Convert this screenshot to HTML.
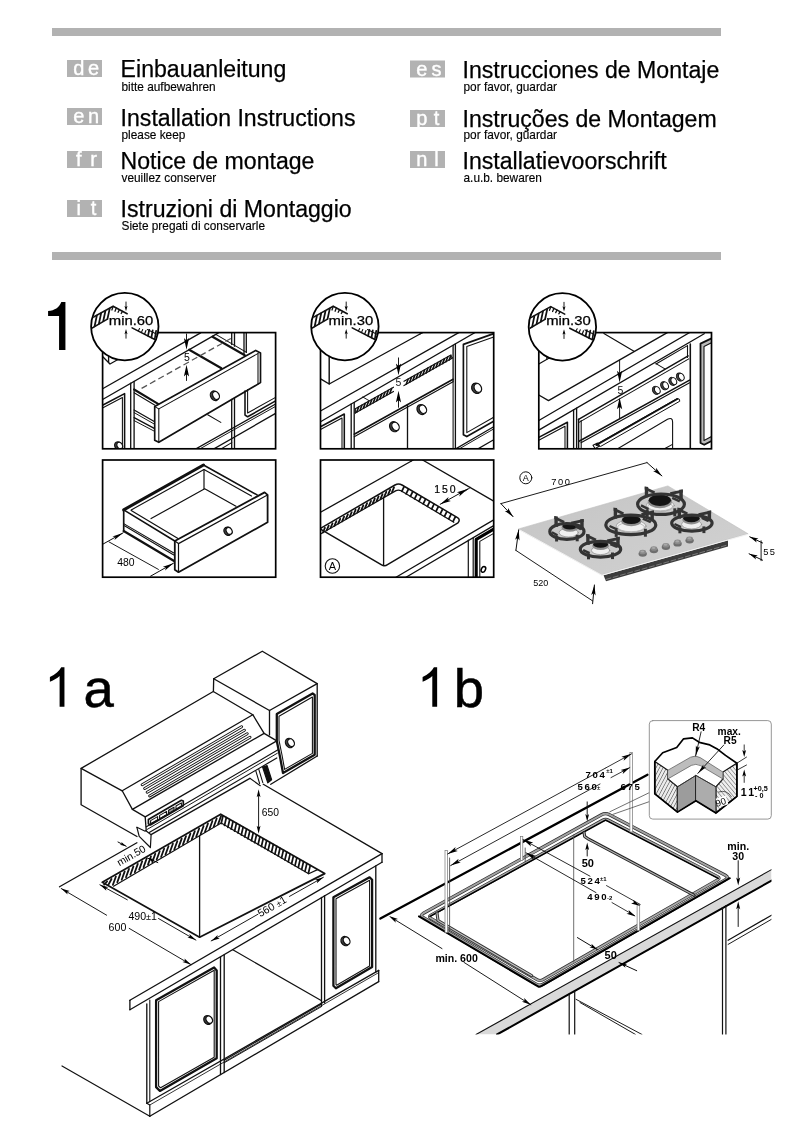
<!DOCTYPE html>
<html><head><meta charset="utf-8">
<style>
html,body{margin:0;padding:0;background:#fff;}
body{width:802px;height:1133px;position:relative;overflow:hidden;font-family:"Liberation Sans",sans-serif;}
svg{position:absolute;left:0;top:0;display:block}
</style></head><body>
<svg style="filter:grayscale(1)" width="802" height="1133" viewBox="0 0 802 1133" font-family="Liberation Sans, sans-serif" stroke-linecap="round">
<rect x="52" y="28" width="669" height="8" fill="#b2b2b2"/>
<rect x="52" y="252" width="669" height="8" fill="#b2b2b2"/>
<rect x="67" y="60" width="35" height="17" fill="#b2b2b2"/>
<text x="78.8" y="75.0" font-size="20" text-anchor="middle" font-weight="normal" fill="#fff" stroke="#fff" stroke-width="0.4">d</text>
<text x="93.6" y="75.0" font-size="20" text-anchor="middle" font-weight="normal" fill="#fff" stroke="#fff" stroke-width="0.4">e</text>
<rect x="67" y="108" width="35" height="17" fill="#b2b2b2"/>
<text x="78.8" y="123.0" font-size="20" text-anchor="middle" font-weight="normal" fill="#fff" stroke="#fff" stroke-width="0.4">e</text>
<text x="93.6" y="123.0" font-size="20" text-anchor="middle" font-weight="normal" fill="#fff" stroke="#fff" stroke-width="0.4">n</text>
<rect x="67" y="151" width="35" height="17" fill="#b2b2b2"/>
<text x="78.8" y="166.0" font-size="20" text-anchor="middle" font-weight="normal" fill="#fff" stroke="#fff" stroke-width="0.4">f</text>
<text x="93.6" y="166.0" font-size="20" text-anchor="middle" font-weight="normal" fill="#fff" stroke="#fff" stroke-width="0.4">r</text>
<rect x="67" y="200" width="35" height="17" fill="#b2b2b2"/>
<text x="78.8" y="215.0" font-size="20" text-anchor="middle" font-weight="normal" fill="#fff" stroke="#fff" stroke-width="0.4">i</text>
<text x="93.6" y="215.0" font-size="20" text-anchor="middle" font-weight="normal" fill="#fff" stroke="#fff" stroke-width="0.4">t</text>
<rect x="410" y="60.5" width="35" height="17" fill="#b2b2b2"/>
<text x="421.8" y="75.5" font-size="20" text-anchor="middle" font-weight="normal" fill="#fff" stroke="#fff" stroke-width="0.4">e</text>
<text x="436.6" y="75.5" font-size="20" text-anchor="middle" font-weight="normal" fill="#fff" stroke="#fff" stroke-width="0.4">s</text>
<rect x="410" y="110" width="35" height="17" fill="#b2b2b2"/>
<text x="421.8" y="125.0" font-size="20" text-anchor="middle" font-weight="normal" fill="#fff" stroke="#fff" stroke-width="0.4">p</text>
<text x="436.6" y="125.0" font-size="20" text-anchor="middle" font-weight="normal" fill="#fff" stroke="#fff" stroke-width="0.4">t</text>
<rect x="410" y="151" width="35" height="17" fill="#b2b2b2"/>
<text x="421.8" y="166.0" font-size="20" text-anchor="middle" font-weight="normal" fill="#fff" stroke="#fff" stroke-width="0.4">n</text>
<text x="436.6" y="166.0" font-size="20" text-anchor="middle" font-weight="normal" fill="#fff" stroke="#fff" stroke-width="0.4">l</text>
<text x="120.6" y="77.0" font-size="23.1" text-anchor="start" font-weight="normal" fill="#000" stroke="#000" stroke-width="0.25">Einbauanleitung</text>
<text x="120.6" y="126.4" font-size="23.1" text-anchor="start" font-weight="normal" fill="#000" stroke="#000" stroke-width="0.25">Installation Instructions</text>
<text x="120.6" y="169.3" font-size="23.1" text-anchor="start" font-weight="normal" fill="#000" stroke="#000" stroke-width="0.25">Notice de montage</text>
<text x="120.6" y="217.4" font-size="23.1" text-anchor="start" font-weight="normal" fill="#000" stroke="#000" stroke-width="0.25">Istruzioni di Montaggio</text>
<text x="462.5" y="78.2" font-size="23.1" text-anchor="start" font-weight="normal" fill="#000" stroke="#000" stroke-width="0.25">Instrucciones de Montaje</text>
<text x="462.5" y="127.4" font-size="23.1" text-anchor="start" font-weight="normal" fill="#000" stroke="#000" stroke-width="0.25">Instruções de Montagem</text>
<text x="462.5" y="169.3" font-size="23.1" text-anchor="start" font-weight="normal" fill="#000" stroke="#000" stroke-width="0.25">Installatievoorschrift</text>
<text x="121.5" y="90.9" font-size="11.85" text-anchor="start" font-weight="normal" fill="#000" stroke="#000" stroke-width="0.15">bitte aufbewahren</text>
<text x="121.5" y="139.3" font-size="11.85" text-anchor="start" font-weight="normal" fill="#000" stroke="#000" stroke-width="0.15">please keep</text>
<text x="121.5" y="181.7" font-size="11.85" text-anchor="start" font-weight="normal" fill="#000" stroke="#000" stroke-width="0.15">veuillez conserver</text>
<text x="121.5" y="230.3" font-size="11.85" text-anchor="start" font-weight="normal" fill="#000" stroke="#000" stroke-width="0.15">Siete pregati di conservarle</text>
<text x="463.5" y="90.9" font-size="11.85" text-anchor="start" font-weight="normal" fill="#000" stroke="#000" stroke-width="0.15">por favor, guardar</text>
<text x="463.5" y="139.3" font-size="11.85" text-anchor="start" font-weight="normal" fill="#000" stroke="#000" stroke-width="0.15">por favor, guardar</text>
<text x="463.5" y="181.7" font-size="11.85" text-anchor="start" font-weight="normal" fill="#000" stroke="#000" stroke-width="0.15">a.u.b. bewaren</text>
<clipPath id="c1"><rect x="102.6" y="332.6" width="173.00000000000003" height="116.19999999999999"/></clipPath><g clip-path="url(#c1)">
<line x1="102.6" y1="388.8" x2="200.6" y2="332.9" stroke="#111" stroke-width="1.32" />
<line x1="102.6" y1="399.5" x2="218.4" y2="332.9" stroke="#111" stroke-width="1.32" />
<path d="M102.8 356.8 L110.0 364.0 L121.0 357.8" stroke="#111" stroke-width="1.32" fill="none" stroke-linejoin="round" />
<line x1="108.6" y1="353.0" x2="108.6" y2="362.5" stroke="#111" stroke-width="1.32" />
<path d="M102.5 405.3 L124.6 393.6 L124.6 449.0" stroke="#111" stroke-width="1.56" fill="none" stroke-linejoin="round" />
<path d="M102.5 408.0 L122.4 397.4 L122.4 449.0" stroke="#111" stroke-width="1.08" fill="none" stroke-linejoin="round" />
<g transform="translate(119.0 445.7) rotate(-30)"><ellipse cx="-0.7" cy="-0.2" rx="3.4" ry="4.2" fill="#444" stroke="#111" stroke-width="1.25"/><ellipse cx="0.7" cy="0.25" rx="2.7" ry="3.6" fill="#fff" stroke="#111" stroke-width="1.25"/></g>
<line x1="130.7" y1="383.2" x2="130.7" y2="449.0" stroke="#111" stroke-width="1.32" />
<line x1="134.1" y1="381.3" x2="134.1" y2="449.0" stroke="#111" stroke-width="1.32" />
<line x1="134.1" y1="389.5" x2="158.1" y2="403.9" stroke="#111" stroke-width="2.16" />
<line x1="134.1" y1="392.8" x2="155.0" y2="405.3" stroke="#111" stroke-width="1.08" />
<line x1="134.1" y1="410.0" x2="154.7" y2="421.7" stroke="#111" stroke-width="1.32" />
<line x1="134.1" y1="412.6" x2="154.7" y2="424.3" stroke="#111" stroke-width="0.96" />
<line x1="134.1" y1="417.6" x2="154.7" y2="428.6" stroke="#111" stroke-width="1.32" />
<line x1="134.1" y1="420.6" x2="154.7" y2="431.4" stroke="#111" stroke-width="0.96" />
<line x1="189.2" y1="349.7" x2="221.4" y2="368.2" stroke="#111" stroke-width="2.16" />
<line x1="212.5" y1="336.7" x2="244.8" y2="355.2" stroke="#111" stroke-width="2.16" />
<line x1="216.2" y1="334.6" x2="246.5" y2="352.4" stroke="#111" stroke-width="1.08" />
<path d="M154.7 406.6 L255.7 350.4 L260.5 353.1 L260.5 382.6 L158.8 442.3 L154.7 440.2 Z" stroke="#111" stroke-width="1.68" fill="#fff" stroke-linejoin="round" />
<path d="M158.8 442.3 L158.8 408.9 L258.2 353.4" stroke="#111" stroke-width="1.08" fill="none" stroke-linejoin="round" />
<path d="M154.7 406.6 L158.8 408.9" stroke="#111" stroke-width="1.08" fill="none" stroke-linejoin="round" />
<line x1="258.0" y1="353.8" x2="258.0" y2="384.0" stroke="#111" stroke-width="1.08" />
<g transform="translate(215.3 395.6) rotate(-30)"><ellipse cx="-0.7" cy="-0.2" rx="4.0" ry="5.0" fill="#444" stroke="#111" stroke-width="1.25"/><ellipse cx="0.7" cy="0.25" rx="3.1" ry="4.2" fill="#fff" stroke="#111" stroke-width="1.25"/></g>
<line x1="141.6" y1="388.4" x2="233" y2="337.3" stroke="#555" stroke-width="1.3" stroke-dasharray="6.2 3.4" stroke-linecap="butt"/>
<line x1="186.5" y1="334.0" x2="186.5" y2="345.0" stroke="#111" stroke-width="0.96" />
<path d="M186.5 349.7 L183.9 338.0 L186.5 340.6 L189.1 338.0 Z" fill="#000"/>
<line x1="186.5" y1="380.5" x2="186.5" y2="370.0" stroke="#111" stroke-width="0.96" />
<path d="M186.5 364.8 L189.1 376.5 L186.5 373.9 L183.9 376.5 Z" fill="#000"/>
<text x="184.0" y="360.9" font-size="10.5" text-anchor="start" font-weight="normal" fill="#000" >5</text>
<line x1="231.7" y1="333.0" x2="231.7" y2="344.5" stroke="#111" stroke-width="1.32" />
<line x1="234.5" y1="333.0" x2="234.5" y2="346.2" stroke="#111" stroke-width="1.32" />
<line x1="244.0" y1="333.0" x2="244.0" y2="354.6" stroke="#111" stroke-width="1.32" />
<line x1="246.3" y1="333.0" x2="246.3" y2="352.2" stroke="#111" stroke-width="1.32" />
<line x1="231.7" y1="399.5" x2="231.7" y2="449.0" stroke="#111" stroke-width="1.32" />
<line x1="234.5" y1="398.0" x2="234.5" y2="449.0" stroke="#111" stroke-width="1.32" />
<path d="M245.0 391.0 L245.0 415.0 L247.6 416.8 L275.6 400.9" stroke="#111" stroke-width="1.56" fill="none" stroke-linejoin="round" />
<path d="M247.6 389.6 L247.6 413.0 L275.6 397.4" stroke="#111" stroke-width="1.08" fill="none" stroke-linejoin="round" />
<line x1="196.0" y1="448.8" x2="275.6" y2="404.0" stroke="#111" stroke-width="1.32" />
<line x1="200.0" y1="448.8" x2="275.6" y2="406.4" stroke="#111" stroke-width="0.96" />
<line x1="214.0" y1="448.8" x2="275.6" y2="413.4" stroke="#111" stroke-width="1.32" />
<line x1="207.7" y1="414.8" x2="220.8" y2="422.4" stroke="#111" stroke-width="1.08" />
<line x1="221.0" y1="449.0" x2="231.7" y2="442.6" stroke="#111" stroke-width="1.08" />
</g>
<rect x="102.6" y="332.6" width="173.00000000000003" height="116.19999999999999" fill="none" stroke="#000" stroke-width="1.7"/>
<circle cx="124.8" cy="326.6" r="33.7" fill="#fff" stroke="#000" stroke-width="1.8"/>
<clipPath id="c2"><rect x="91.1" y="292.90000000000003" width="67.4" height="67.4"/></clipPath><g clip-path="url(#c2)">
<clipPath id="cc2"><circle cx="124.8" cy="326.6" r="33.1"/></clipPath><g clip-path="url(#cc2)">
<path d="M90.8 328.8 L107.4 319.1" stroke="#111" stroke-width="1.56" fill="none" stroke-linejoin="round" />
<path d="M90.8 318.6 L113.1 306.3 L127.1 313.8" stroke="#111" stroke-width="1.56" fill="none" stroke-linejoin="round" />
<line x1="94.6" y1="326.3" x2="96.8" y2="315.7" stroke="#111" stroke-width="1.74" />
<line x1="98.9" y1="323.8" x2="101.1" y2="313.3" stroke="#111" stroke-width="1.74" />
<line x1="103.2" y1="321.2" x2="105.4" y2="311.0" stroke="#111" stroke-width="1.74" />
<line x1="107.5" y1="318.7" x2="109.7" y2="308.6" stroke="#111" stroke-width="1.74" />
<line x1="113.2" y1="306.4" x2="111.9" y2="310.0" stroke="#111" stroke-width="1.32" />
<line x1="116.3" y1="308.1" x2="115.0" y2="311.2" stroke="#111" stroke-width="1.32" />
<line x1="119.4" y1="309.7" x2="118.1" y2="312.3" stroke="#111" stroke-width="1.32" />
<line x1="122.5" y1="311.4" x2="121.2" y2="313.5" stroke="#111" stroke-width="1.32" />
<path d="M132.1 327.9 L155.8 340.0" stroke="#111" stroke-width="1.56" fill="none" stroke-linejoin="round" />
<line x1="138.3" y1="330.8" x2="139.6" y2="328.5" stroke="#111" stroke-width="1.08" />
<line x1="141.4" y1="332.4" x2="142.7" y2="329.5" stroke="#111" stroke-width="1.08" />
<line x1="144.6" y1="334.0" x2="145.9" y2="330.5" stroke="#111" stroke-width="1.2" />
<line x1="148.0" y1="335.7" x2="149.3" y2="329.8" stroke="#111" stroke-width="1.74" />
<line x1="151.4" y1="337.5" x2="152.7" y2="330.4" stroke="#111" stroke-width="1.74" />
<line x1="154.8" y1="339.2" x2="156.1" y2="330.9" stroke="#111" stroke-width="1.74" />
<path d="M147.4 329.6 L157.8 334.8" stroke="#111" stroke-width="1.08" fill="none" stroke-linejoin="round" />
</g>
</g>
<line x1="126.0" y1="302.0" x2="126.0" y2="307.6" stroke="#111" stroke-width="0.96" />
<path d="M126.0 311.2 L124.5 305.9 L126.0 307.1 L127.5 305.9 Z" fill="#000"/>
<line x1="126.0" y1="338.2" x2="126.0" y2="332.6" stroke="#111" stroke-width="0.96" />
<path d="M126.0 329.0 L127.5 334.3 L126.0 333.1 L124.5 334.3 Z" fill="#000"/>
<text x="108.8" y="324.6" font-size="13" text-anchor="start" font-weight="normal" fill="#000" textLength="44.6" lengthAdjust="spacingAndGlyphs" stroke="#000" stroke-width="0.25">min.60</text>
<clipPath id="c3"><rect x="320.5" y="332.6" width="173.2" height="116.19999999999999"/></clipPath><g clip-path="url(#c3)">
<path d="M321.0 379.2 L329.2 384.0 L329.2 352.0" stroke="#111" stroke-width="1.44" fill="none" stroke-linejoin="round" />
<line x1="329.2" y1="384.0" x2="420.0" y2="334.0" stroke="#111" stroke-width="1.32" />
<line x1="420.0" y1="334.0" x2="422.6" y2="332.6" stroke="#111" stroke-width="1.32" />
<line x1="320.5" y1="411.0" x2="460.5" y2="331.6" stroke="#111" stroke-width="1.32" />
<line x1="320.5" y1="421.8" x2="476.0" y2="332.0" stroke="#111" stroke-width="1.32" />
<path d="M355.3 408.7 L393.5 387.2" stroke="#111" stroke-width="1.2" fill="none" stroke-linejoin="round" />
<path d="M355.3 413.0 L393.5 391.5" stroke="#111" stroke-width="1.2" fill="none" stroke-linejoin="round" />
<path d="M404.0 381.3 L450.0 355.4 L452.5 358.0 L404.0 385.6" stroke="#111" stroke-width="1.2" fill="none" stroke-linejoin="round" />
<line x1="355.3" y1="408.7" x2="355.3" y2="413.0" stroke="#111" stroke-width="1.2" />
<line x1="356.8" y1="411.9" x2="358.6" y2="407.1" stroke="#111" stroke-width="1.62" />
<line x1="360.1" y1="410.0" x2="361.9" y2="405.3" stroke="#111" stroke-width="1.62" />
<line x1="363.4" y1="408.1" x2="365.2" y2="403.4" stroke="#111" stroke-width="1.62" />
<line x1="366.7" y1="406.3" x2="368.5" y2="401.6" stroke="#111" stroke-width="1.62" />
<line x1="370.0" y1="404.4" x2="371.8" y2="399.7" stroke="#111" stroke-width="1.62" />
<line x1="373.3" y1="402.6" x2="375.1" y2="397.9" stroke="#111" stroke-width="1.62" />
<line x1="376.6" y1="400.7" x2="378.4" y2="396.0" stroke="#111" stroke-width="1.62" />
<line x1="379.9" y1="398.9" x2="381.7" y2="394.1" stroke="#111" stroke-width="1.62" />
<line x1="383.2" y1="397.0" x2="385.0" y2="392.3" stroke="#111" stroke-width="1.62" />
<line x1="386.5" y1="395.1" x2="388.3" y2="390.4" stroke="#111" stroke-width="1.62" />
<line x1="389.8" y1="393.3" x2="391.6" y2="388.6" stroke="#111" stroke-width="1.62" />
<line x1="406.3" y1="384.0" x2="408.1" y2="379.3" stroke="#111" stroke-width="1.62" />
<line x1="409.6" y1="382.2" x2="411.4" y2="377.4" stroke="#111" stroke-width="1.62" />
<line x1="412.9" y1="380.3" x2="414.7" y2="375.6" stroke="#111" stroke-width="1.62" />
<line x1="416.2" y1="378.4" x2="418.0" y2="373.7" stroke="#111" stroke-width="1.62" />
<line x1="419.5" y1="376.6" x2="421.3" y2="371.9" stroke="#111" stroke-width="1.62" />
<line x1="422.8" y1="374.7" x2="424.6" y2="370.0" stroke="#111" stroke-width="1.62" />
<line x1="426.1" y1="372.9" x2="427.9" y2="368.2" stroke="#111" stroke-width="1.62" />
<line x1="429.4" y1="371.0" x2="431.2" y2="366.3" stroke="#111" stroke-width="1.62" />
<line x1="432.7" y1="369.2" x2="434.5" y2="364.4" stroke="#111" stroke-width="1.62" />
<line x1="436.0" y1="367.3" x2="437.8" y2="362.6" stroke="#111" stroke-width="1.62" />
<line x1="439.3" y1="365.4" x2="441.1" y2="360.7" stroke="#111" stroke-width="1.62" />
<line x1="442.6" y1="363.6" x2="444.4" y2="358.9" stroke="#111" stroke-width="1.62" />
<line x1="445.9" y1="361.7" x2="447.7" y2="357.0" stroke="#111" stroke-width="1.62" />
<line x1="449.2" y1="359.9" x2="451.0" y2="355.2" stroke="#111" stroke-width="1.62" />
<line x1="362.8" y1="397.0" x2="369.0" y2="400.6" stroke="#111" stroke-width="0.96" />
<line x1="351.2" y1="404.0" x2="351.2" y2="449.0" stroke="#111" stroke-width="1.32" />
<line x1="354.2" y1="402.3" x2="354.2" y2="449.0" stroke="#111" stroke-width="1.32" />
<path d="M320.5 426.8 L344.3 414.0 L344.3 449.0" stroke="#111" stroke-width="1.56" fill="none" stroke-linejoin="round" />
<path d="M320.5 429.6 L342.0 418.0 L342.0 449.0" stroke="#111" stroke-width="1.08" fill="none" stroke-linejoin="round" />
<line x1="354.2" y1="434.2" x2="453.1" y2="379.2" stroke="#111" stroke-width="1.56" />
<line x1="354.2" y1="436.8" x2="453.1" y2="381.8" stroke="#111" stroke-width="1.08" />
<line x1="407.5" y1="405.6" x2="407.5" y2="449.0" stroke="#111" stroke-width="1.32" />
<g transform="translate(394.8 426.5) rotate(-30)"><ellipse cx="-0.7" cy="-0.2" rx="4.3" ry="5.2" fill="#444" stroke="#111" stroke-width="1.25"/><ellipse cx="0.7" cy="0.25" rx="3.4" ry="4.4" fill="#fff" stroke="#111" stroke-width="1.25"/></g>
<g transform="translate(422.2 409.4) rotate(-30)"><ellipse cx="-0.7" cy="-0.2" rx="4.3" ry="5.2" fill="#444" stroke="#111" stroke-width="1.25"/><ellipse cx="0.7" cy="0.25" rx="3.4" ry="4.4" fill="#fff" stroke="#111" stroke-width="1.25"/></g>
<line x1="398.5" y1="357.9" x2="398.5" y2="370.0" stroke="#111" stroke-width="0.96" />
<path d="M398.5 375.2 L395.9 363.5 L398.5 366.1 L401.1 363.5 Z" fill="#000"/>
<line x1="398.5" y1="407.3" x2="398.5" y2="396.0" stroke="#111" stroke-width="0.96" />
<path d="M398.5 390.8 L401.1 402.5 L398.5 399.9 L395.9 402.5 Z" fill="#000"/>
<text x="395.6" y="386.2" font-size="10.5" text-anchor="start" font-weight="normal" fill="#222" >5</text>
<line x1="453.1" y1="345.3" x2="453.1" y2="381.0" stroke="#111" stroke-width="1.32" />
<line x1="455.4" y1="344.0" x2="455.4" y2="449.0" stroke="#111" stroke-width="1.32" />
<line x1="453.1" y1="381.0" x2="453.1" y2="449.0" stroke="#111" stroke-width="1.08" />
<path d="M493.7 333.6 L463.4 344.4 L463.4 434.7 L466.8 436.6 L493.7 421.2" stroke="#111" stroke-width="1.68" fill="none" stroke-linejoin="round" />
<path d="M493.7 337.0 L466.8 346.6 L466.8 432.6 L493.7 417.2" stroke="#111" stroke-width="1.08" fill="none" stroke-linejoin="round" />
<g transform="translate(477.1 388.1) rotate(-30)"><ellipse cx="-0.7" cy="-0.2" rx="4.5" ry="5.4" fill="#444" stroke="#111" stroke-width="1.25"/><ellipse cx="0.7" cy="0.25" rx="3.5" ry="4.6" fill="#fff" stroke="#111" stroke-width="1.25"/></g>
<line x1="455.8" y1="448.8" x2="493.7" y2="426.7" stroke="#111" stroke-width="1.32" />
<line x1="459.4" y1="448.8" x2="493.7" y2="428.9" stroke="#111" stroke-width="0.96" />
<line x1="478.0" y1="448.8" x2="493.7" y2="439.7" stroke="#111" stroke-width="1.32" />
</g>
<rect x="320.5" y="332.6" width="173.2" height="116.19999999999999" fill="none" stroke="#000" stroke-width="1.7"/>
<circle cx="344.9" cy="326.6" r="33.7" fill="#fff" stroke="#000" stroke-width="1.8"/>
<clipPath id="c4"><rect x="311.2" y="292.90000000000003" width="67.4" height="67.4"/></clipPath><g clip-path="url(#c4)">
<clipPath id="cc4"><circle cx="344.9" cy="326.6" r="33.1"/></clipPath><g clip-path="url(#cc4)">
<path d="M310.9 328.8 L327.5 319.1" stroke="#111" stroke-width="1.56" fill="none" stroke-linejoin="round" />
<path d="M310.9 318.6 L333.2 306.3 L347.2 313.8" stroke="#111" stroke-width="1.56" fill="none" stroke-linejoin="round" />
<line x1="314.7" y1="326.3" x2="316.9" y2="315.7" stroke="#111" stroke-width="1.74" />
<line x1="319.0" y1="323.8" x2="321.2" y2="313.3" stroke="#111" stroke-width="1.74" />
<line x1="323.3" y1="321.2" x2="325.5" y2="311.0" stroke="#111" stroke-width="1.74" />
<line x1="327.6" y1="318.7" x2="329.8" y2="308.6" stroke="#111" stroke-width="1.74" />
<line x1="333.3" y1="306.4" x2="332.0" y2="310.0" stroke="#111" stroke-width="1.32" />
<line x1="336.4" y1="308.1" x2="335.1" y2="311.2" stroke="#111" stroke-width="1.32" />
<line x1="339.5" y1="309.7" x2="338.2" y2="312.3" stroke="#111" stroke-width="1.32" />
<line x1="342.6" y1="311.4" x2="341.3" y2="313.5" stroke="#111" stroke-width="1.32" />
<path d="M352.2 327.9 L375.9 340.0" stroke="#111" stroke-width="1.56" fill="none" stroke-linejoin="round" />
<line x1="358.4" y1="330.8" x2="359.7" y2="328.5" stroke="#111" stroke-width="1.08" />
<line x1="361.5" y1="332.4" x2="362.8" y2="329.5" stroke="#111" stroke-width="1.08" />
<line x1="364.7" y1="334.0" x2="366.0" y2="330.5" stroke="#111" stroke-width="1.2" />
<line x1="368.1" y1="335.7" x2="369.4" y2="329.8" stroke="#111" stroke-width="1.74" />
<line x1="371.5" y1="337.5" x2="372.8" y2="330.4" stroke="#111" stroke-width="1.74" />
<line x1="374.9" y1="339.2" x2="376.2" y2="330.9" stroke="#111" stroke-width="1.74" />
<path d="M367.5 329.6 L377.9 334.8" stroke="#111" stroke-width="1.08" fill="none" stroke-linejoin="round" />
</g>
</g>
<line x1="346.2" y1="302.0" x2="346.2" y2="307.6" stroke="#111" stroke-width="0.96" />
<path d="M346.2 311.2 L344.7 305.9 L346.2 307.1 L347.7 305.9 Z" fill="#000"/>
<line x1="346.2" y1="338.2" x2="346.2" y2="332.6" stroke="#111" stroke-width="0.96" />
<path d="M346.2 329.0 L347.7 334.3 L346.2 333.1 L344.7 334.3 Z" fill="#000"/>
<text x="328.6" y="324.6" font-size="13" text-anchor="start" font-weight="normal" fill="#000" textLength="44.6" lengthAdjust="spacingAndGlyphs" stroke="#000" stroke-width="0.25">min.30</text>
<clipPath id="c5"><rect x="538.8" y="332.6" width="172.70000000000005" height="116.19999999999999"/></clipPath><g clip-path="url(#c5)">
<path d="M538.8 395.0 L548.5 400.6 L667.3 332.6" stroke="#111" stroke-width="1.32" fill="none" stroke-linejoin="round" />
<line x1="603.9" y1="333.5" x2="634.4" y2="351.4" stroke="#111" stroke-width="1.2" />
<path d="M538.8 364.1 L549.2 357.9" stroke="#111" stroke-width="1.2" fill="none" stroke-linejoin="round" />
<line x1="546.8" y1="356.0" x2="546.8" y2="359.5" stroke="#111" stroke-width="1.08" />
<line x1="538.8" y1="420.5" x2="690.6" y2="332.0" stroke="#111" stroke-width="1.32" />
<line x1="538.8" y1="430.1" x2="704.2" y2="333.7" stroke="#111" stroke-width="1.32" />
<line x1="656.0" y1="364.0" x2="687.5" y2="345.6" stroke="#111" stroke-width="1.08" />
<line x1="656.0" y1="363.6" x2="664.9" y2="368.9" stroke="#111" stroke-width="1.08" />
<line x1="578.6" y1="419.3" x2="688.2" y2="355.9" stroke="#111" stroke-width="1.44" />
<line x1="578.6" y1="422.6" x2="688.8" y2="358.9" stroke="#111" stroke-width="1.08" />
<line x1="578.6" y1="441.5" x2="689.6" y2="380.1" stroke="#111" stroke-width="1.44" />
<line x1="581.0" y1="442.8" x2="689.6" y2="382.7" stroke="#111" stroke-width="1.08" />
<line x1="578.6" y1="419.3" x2="578.6" y2="449.0" stroke="#111" stroke-width="1.44" />
<line x1="581.2" y1="420.6" x2="581.2" y2="449.0" stroke="#111" stroke-width="1.08" />
<g transform="translate(656.6 390.2) rotate(-28)"><ellipse cx="-0.7" cy="-0.2" rx="3.3" ry="4.3" fill="#444" stroke="#111" stroke-width="0.9"/><ellipse cx="0.7" cy="0.25" rx="2.6" ry="3.7" fill="#fff" stroke="#111" stroke-width="0.9"/></g>
<g transform="translate(664.9 385.6) rotate(-28)"><ellipse cx="-0.7" cy="-0.2" rx="3.3" ry="4.3" fill="#444" stroke="#111" stroke-width="0.9"/><ellipse cx="0.7" cy="0.25" rx="2.6" ry="3.7" fill="#fff" stroke="#111" stroke-width="0.9"/></g>
<g transform="translate(673.1 381.2) rotate(-28)"><ellipse cx="-0.7" cy="-0.2" rx="3.3" ry="4.3" fill="#444" stroke="#111" stroke-width="0.9"/><ellipse cx="0.7" cy="0.25" rx="2.6" ry="3.7" fill="#fff" stroke="#111" stroke-width="0.9"/></g>
<g transform="translate(680.6 376.9) rotate(-28)"><ellipse cx="-0.7" cy="-0.2" rx="3.3" ry="4.3" fill="#444" stroke="#111" stroke-width="0.9"/><ellipse cx="0.7" cy="0.25" rx="2.6" ry="3.7" fill="#fff" stroke="#111" stroke-width="0.9"/></g>
<path d="M596 444.6 L677.0 398.6 Q680 398.2 679.8 401.2 L601 446.2 Z" fill="#fff" stroke="#111" stroke-width="1"/>
<line x1="596.5" y1="444.9" x2="677.3" y2="399.0" stroke="#111" stroke-width="1.92" />
<path d="M593.0 445.2 L597.5 443.0 L599.5 446.0 L595.0 448.6 Z" stroke="#111" stroke-width="1.08" fill="none" stroke-linejoin="round" />
<path d="M602 458 L667.5 419.3 Q672.6 417 672.6 422 L672.6 452" fill="none" stroke="#111" stroke-width="1.1"/>
<line x1="664.5" y1="448.8" x2="672.0" y2="444.6" stroke="#111" stroke-width="1.08" />
<line x1="573.6" y1="409.8" x2="573.6" y2="449.0" stroke="#111" stroke-width="1.32" />
<line x1="576.6" y1="408.1" x2="576.6" y2="449.0" stroke="#111" stroke-width="1.32" />
<path d="M538.8 437.4 L567.4 422.2 L567.4 449.0" stroke="#111" stroke-width="1.56" fill="none" stroke-linejoin="round" />
<path d="M538.8 440.2 L565.0 426.2 L565.0 449.0" stroke="#111" stroke-width="1.08" fill="none" stroke-linejoin="round" />
<line x1="619.6" y1="360.2" x2="619.6" y2="376.5" stroke="#111" stroke-width="0.96" />
<path d="M619.6 382.4 L617.0 370.7 L619.6 373.3 L622.2 370.7 Z" fill="#000"/>
<line x1="619.6" y1="418.3" x2="619.6" y2="405.0" stroke="#111" stroke-width="0.96" />
<path d="M619.6 397.6 L622.2 409.3 L619.6 406.7 L617.0 409.3 Z" fill="#000"/>
<text x="617.4" y="394.0" font-size="10.5" text-anchor="start" font-weight="normal" fill="#111" >5</text>
<line x1="687.5" y1="345.8" x2="687.5" y2="357.5" stroke="#111" stroke-width="1.08" />
<line x1="690.3" y1="344.0" x2="690.3" y2="449.0" stroke="#111" stroke-width="1.56" />
<path d="M711.5 338.4 L700.5 343.6 L700.5 443.0 L704.2 444.8 L711.5 441.0" stroke="#111" stroke-width="1.8" fill="#bbb" stroke-linejoin="round" />
<path d="M711.5 342.8 L704.0 346.4 L704.0 440.4 L711.5 436.6" stroke="#111" stroke-width="1.08" fill="#fff" stroke-linejoin="round" />
</g>
<rect x="538.8" y="332.6" width="172.70000000000005" height="116.19999999999999" fill="none" stroke="#000" stroke-width="1.7"/>
<circle cx="562.4" cy="326.9" r="33.7" fill="#fff" stroke="#000" stroke-width="1.8"/>
<clipPath id="c6"><rect x="528.6999999999999" y="293.2" width="67.4" height="67.4"/></clipPath><g clip-path="url(#c6)">
<clipPath id="cc6"><circle cx="562.4" cy="326.9" r="33.1"/></clipPath><g clip-path="url(#cc6)">
<path d="M528.4 329.1 L545.0 319.4" stroke="#111" stroke-width="1.56" fill="none" stroke-linejoin="round" />
<path d="M528.4 318.9 L550.7 306.6 L564.7 314.1" stroke="#111" stroke-width="1.56" fill="none" stroke-linejoin="round" />
<line x1="532.2" y1="326.6" x2="534.4" y2="316.0" stroke="#111" stroke-width="1.74" />
<line x1="536.5" y1="324.1" x2="538.7" y2="313.6" stroke="#111" stroke-width="1.74" />
<line x1="540.8" y1="321.5" x2="543.0" y2="311.3" stroke="#111" stroke-width="1.74" />
<line x1="545.1" y1="319.0" x2="547.3" y2="308.9" stroke="#111" stroke-width="1.74" />
<line x1="550.8" y1="306.7" x2="549.5" y2="310.3" stroke="#111" stroke-width="1.32" />
<line x1="553.9" y1="308.4" x2="552.6" y2="311.5" stroke="#111" stroke-width="1.32" />
<line x1="557.0" y1="310.0" x2="555.7" y2="312.6" stroke="#111" stroke-width="1.32" />
<line x1="560.1" y1="311.7" x2="558.8" y2="313.8" stroke="#111" stroke-width="1.32" />
<path d="M569.7 328.2 L593.4 340.3" stroke="#111" stroke-width="1.56" fill="none" stroke-linejoin="round" />
<line x1="575.9" y1="331.1" x2="577.2" y2="328.8" stroke="#111" stroke-width="1.08" />
<line x1="579.0" y1="332.7" x2="580.3" y2="329.8" stroke="#111" stroke-width="1.08" />
<line x1="582.2" y1="334.3" x2="583.5" y2="330.8" stroke="#111" stroke-width="1.2" />
<line x1="585.6" y1="336.0" x2="586.9" y2="330.1" stroke="#111" stroke-width="1.74" />
<line x1="589.0" y1="337.8" x2="590.3" y2="330.7" stroke="#111" stroke-width="1.74" />
<line x1="592.4" y1="339.5" x2="593.7" y2="331.2" stroke="#111" stroke-width="1.74" />
<path d="M585.0 329.9 L595.4 335.1" stroke="#111" stroke-width="1.08" fill="none" stroke-linejoin="round" />
</g>
</g>
<line x1="564.0" y1="302.3" x2="564.0" y2="307.9" stroke="#111" stroke-width="0.96" />
<path d="M564.0 311.5 L562.5 306.2 L564.0 307.4 L565.5 306.2 Z" fill="#000"/>
<line x1="564.0" y1="338.5" x2="564.0" y2="332.9" stroke="#111" stroke-width="0.96" />
<path d="M564.0 329.3 L565.5 334.6 L564.0 333.4 L562.5 334.6 Z" fill="#000"/>
<text x="546.2" y="325.2" font-size="13" text-anchor="start" font-weight="normal" fill="#000" textLength="44.6" lengthAdjust="spacingAndGlyphs" stroke="#000" stroke-width="0.25">min.30</text>
<path d="M65.43 301.88 L65.43 349.97 L59.07 349.97 L59.07 315.94 L48.08 315.94 L48.08 310.93 C54.9 310.2 59.0 307.6 61.32 301.88 Z" fill="#000"/>
<clipPath id="c7"><rect x="102.6" y="460.0" width="173.1" height="117.20000000000005"/></clipPath><g clip-path="url(#c7)">
<path d="M123.7 509.9 L203.5 465.0" stroke="#111" stroke-width="3.0" fill="none" stroke-linejoin="round" />
<path d="M203.5 465.0 L257.1 494.9" stroke="#111" stroke-width="1.56" fill="none" stroke-linejoin="round" />
<path d="M131.2 509.9 L204.0 469.6 L251.5 496.0" stroke="#111" stroke-width="1.2" fill="none" stroke-linejoin="round" />
<path d="M123.7 509.9 L174.8 541.0" stroke="#111" stroke-width="1.56" fill="none" stroke-linejoin="round" />
<path d="M131.2 510.4 L178.0 538.6" stroke="#111" stroke-width="1.2" fill="none" stroke-linejoin="round" />
<line x1="204.0" y1="469.6" x2="204.0" y2="488.7" stroke="#111" stroke-width="1.2" />
<path d="M151.1 518.6 L204.7 488.7 L236.0 506.3" stroke="#111" stroke-width="1.2" fill="none" stroke-linejoin="round" />
<line x1="123.7" y1="509.9" x2="123.7" y2="531.4" stroke="#111" stroke-width="1.68" />
<line x1="123.7" y1="523.6" x2="173.8" y2="553.0" stroke="#111" stroke-width="1.08" />
<line x1="124.5" y1="525.8" x2="173.8" y2="555.0" stroke="#111" stroke-width="1.08" />
<line x1="123.7" y1="531.0" x2="174.1" y2="561.0" stroke="#111" stroke-width="2.28" />
<path d="M174.8 541.0 L264.6 492.4 L267.6 494.9 L267.6 522.3 L178.5 572.2 L174.8 569.7 Z" stroke="#111" stroke-width="1.8" fill="#fff" stroke-linejoin="round" />
<path d="M178.5 572.2 L178.5 543.6 L267.0 495.2" stroke="#111" stroke-width="1.2" fill="none" stroke-linejoin="round" />
<line x1="174.8" y1="541.0" x2="178.5" y2="543.6" stroke="#111" stroke-width="1.2" />
<g transform="translate(228.4 531.0) rotate(-30)"><ellipse cx="-0.7" cy="-0.2" rx="3.6" ry="4.3" fill="#444" stroke="#111" stroke-width="1.25"/><ellipse cx="0.7" cy="0.25" rx="2.8" ry="3.7" fill="#fff" stroke="#111" stroke-width="1.25"/></g>
<line x1="109.0" y1="541.9" x2="158.4" y2="569.4" stroke="#111" stroke-width="0.96" />
<line x1="103.0" y1="544.1" x2="123.0" y2="532.9" stroke="#000" stroke-width="0.96" />
<path d="M123.0 532.9 L114.5 540.1 L115.6 537.1 L112.4 536.4 Z" fill="#000"/>
<line x1="150.5" y1="576.2" x2="173.5" y2="563.2" stroke="#000" stroke-width="0.96" />
<path d="M173.5 563.2 L165.0 570.4 L166.1 567.4 L162.9 566.7 Z" fill="#000"/>
<text x="117.2" y="565.9" font-size="10.4" text-anchor="start" font-weight="normal" fill="#000" >480</text>
</g>
<rect x="102.6" y="460.0" width="173.1" height="117.20000000000005" fill="none" stroke="#000" stroke-width="1.7"/>
<clipPath id="c8"><rect x="320.5" y="460.0" width="173.2" height="117.20000000000005"/></clipPath><g clip-path="url(#c8)">
<line x1="320.5" y1="512.3" x2="411.0" y2="461.2" stroke="#111" stroke-width="1.32" />
<line x1="411.0" y1="461.2" x2="413.2" y2="460.0" stroke="#111" stroke-width="1.32" />
<line x1="422.6" y1="460.0" x2="493.7" y2="501.1" stroke="#111" stroke-width="1.32" />
<path d="M320.5 528.4 L395.0 485.0 Q398.5 483.0 402.0 485.0 L457.5 517.6 Q460.6 519.6 458.0 522.8 L387.5 564.6 Q384.6 566.6 381.6 564.8 L320.5 529.2" fill="none" stroke="#111" stroke-width="1.5" stroke-linejoin="round"/>
<path d="M320.5 534.0 L396.0 490.6 Q398.5 489.4 401.0 490.8 L453.8 522.2" fill="none" stroke="#111" stroke-width="1.3"/>
<line x1="322.9" y1="532.5" x2="324.9" y2="527.8" stroke="#111" stroke-width="1.8" />
<line x1="326.7" y1="530.3" x2="328.7" y2="525.6" stroke="#111" stroke-width="1.8" />
<line x1="330.5" y1="528.0" x2="332.5" y2="523.3" stroke="#111" stroke-width="1.8" />
<line x1="334.4" y1="525.8" x2="336.4" y2="521.1" stroke="#111" stroke-width="1.8" />
<line x1="338.2" y1="523.5" x2="340.2" y2="518.8" stroke="#111" stroke-width="1.8" />
<line x1="342.1" y1="521.3" x2="344.1" y2="516.6" stroke="#111" stroke-width="1.8" />
<line x1="345.9" y1="519.0" x2="347.9" y2="514.3" stroke="#111" stroke-width="1.8" />
<line x1="349.7" y1="516.8" x2="351.7" y2="512.1" stroke="#111" stroke-width="1.8" />
<line x1="353.6" y1="514.5" x2="355.6" y2="509.8" stroke="#111" stroke-width="1.8" />
<line x1="357.4" y1="512.3" x2="359.4" y2="507.6" stroke="#111" stroke-width="1.8" />
<line x1="361.3" y1="510.1" x2="363.3" y2="505.4" stroke="#111" stroke-width="1.8" />
<line x1="365.1" y1="507.8" x2="367.1" y2="503.1" stroke="#111" stroke-width="1.8" />
<line x1="369.0" y1="505.6" x2="371.0" y2="500.9" stroke="#111" stroke-width="1.8" />
<line x1="372.8" y1="503.3" x2="374.8" y2="498.6" stroke="#111" stroke-width="1.8" />
<line x1="376.6" y1="501.1" x2="378.6" y2="496.4" stroke="#111" stroke-width="1.8" />
<line x1="380.5" y1="498.8" x2="382.5" y2="494.1" stroke="#111" stroke-width="1.8" />
<line x1="384.3" y1="496.6" x2="386.3" y2="491.9" stroke="#111" stroke-width="1.8" />
<line x1="388.2" y1="494.3" x2="390.2" y2="489.6" stroke="#111" stroke-width="1.8" />
<line x1="392.0" y1="492.1" x2="394.0" y2="487.4" stroke="#111" stroke-width="1.8" />
<line x1="401.8" y1="491.3" x2="404.0" y2="486.9" stroke="#111" stroke-width="1.8" />
<line x1="406.1" y1="493.8" x2="408.3" y2="489.4" stroke="#111" stroke-width="1.8" />
<line x1="410.4" y1="496.3" x2="412.6" y2="491.9" stroke="#111" stroke-width="1.8" />
<line x1="414.6" y1="498.8" x2="416.8" y2="494.4" stroke="#111" stroke-width="1.8" />
<line x1="418.9" y1="501.3" x2="421.1" y2="496.9" stroke="#111" stroke-width="1.8" />
<line x1="423.2" y1="503.8" x2="425.4" y2="499.4" stroke="#111" stroke-width="1.8" />
<line x1="427.4" y1="506.3" x2="429.6" y2="501.9" stroke="#111" stroke-width="1.8" />
<line x1="431.7" y1="508.8" x2="433.9" y2="504.4" stroke="#111" stroke-width="1.8" />
<line x1="436.0" y1="511.3" x2="438.2" y2="506.9" stroke="#111" stroke-width="1.8" />
<line x1="440.3" y1="513.8" x2="442.5" y2="509.4" stroke="#111" stroke-width="1.8" />
<line x1="444.5" y1="516.3" x2="446.7" y2="511.9" stroke="#111" stroke-width="1.8" />
<line x1="448.8" y1="518.8" x2="451.0" y2="514.4" stroke="#111" stroke-width="1.8" />
<line x1="453.1" y1="521.3" x2="455.3" y2="516.9" stroke="#111" stroke-width="1.8" />
<line x1="383.6" y1="497.4" x2="383.6" y2="565.6" stroke="#111" stroke-width="1.32" />
<line x1="396.0" y1="577.2" x2="493.7" y2="519.8" stroke="#111" stroke-width="1.32" />
<line x1="406.0" y1="577.2" x2="493.7" y2="525.6" stroke="#111" stroke-width="1.32" />
<line x1="468.3" y1="540.0" x2="468.3" y2="577.2" stroke="#111" stroke-width="1.2" />
<line x1="473.2" y1="538.2" x2="473.2" y2="577.2" stroke="#111" stroke-width="1.2" />
<path d="M476.2 577.2 L476.2 539.4 L493.7 529.2" stroke="#000" stroke-width="3.12" fill="none" stroke-linejoin="round" />
<path d="M479.8 577.2 L479.8 541.4 L493.7 533.4" stroke="#111" stroke-width="1.08" fill="none" stroke-linejoin="round" />
<ellipse cx="483.4" cy="569.4" rx="2.0" ry="3.0" transform="rotate(28 483.4 569.4)" fill="#fff" stroke="#000" stroke-width="1.5"/>
<text x="434.2" y="493.0" font-size="10.5" letter-spacing="2.0" stroke="#000" stroke-width="0.2">150</text>
<line x1="440.2" y1="504.3" x2="467.6" y2="489.0" stroke="#000" stroke-width="0.96" />
<path d="M467.6 489.0 L459.2 496.4 L460.2 493.2 L456.9 492.3 Z" fill="#000"/>
<path d="M440.2 504.3 L448.6 496.9 L447.6 500.1 L450.9 501.0 Z" fill="#000"/>
<line x1="465.5" y1="490.8" x2="470.5" y2="487.4" stroke="#111" stroke-width="0.96" />
<circle cx="332.4" cy="566.0" r="7.2" fill="#fff" stroke="#111" stroke-width="1.1"/>
<text x="332.4" y="570.0" font-size="11" text-anchor="middle" font-weight="normal" fill="#000" >A</text>
</g>
<rect x="320.5" y="460.0" width="173.2" height="117.20000000000005" fill="none" stroke="#000" stroke-width="1.7"/>
<path d="M603.5 575.2 L728 540.2 L728 546.6 L606.0 581.2 Z" fill="#3c3c3c"/>
<path d="M606 579.4 L726 545.4" stroke="#8a8a8a" stroke-width="0.8" stroke-dasharray="5 2.5" fill="none"/>
<defs><linearGradient id="gl" x1="0" y1="0" x2="1" y2="1"><stop offset="0" stop-color="#c4c4c4"/><stop offset="1" stop-color="#d2d2d2"/></linearGradient></defs>
<path d="M518.7 528.9 L667.9 485.9 L748.1 533.8 L601.9 574.7 Z" fill="url(#gl)" stroke="#bdbdbd" stroke-width="0.6"/>
<path d="M518.7 529.4 L601.9 575.3 L748.1 534.4" fill="none" stroke="#f2f2f2" stroke-width="1.0"/>
<ellipse cx="660.3" cy="505.4" rx="14" ry="6.0" fill="#f0f0f0" stroke="#8c8c8c" stroke-width="0.7"/>
<ellipse cx="660.3" cy="506.4" rx="12.5" ry="4.4" fill="none" stroke="#b5b5b5" stroke-width="0.9"/>
<ellipse cx="659.9" cy="501.8" rx="12.1" ry="6.4" fill="#8e8e8e"/>
<ellipse cx="659.9" cy="500.2" rx="11.2" ry="5.7" fill="#141414"/>
<ellipse cx="661.0" cy="504.2" rx="23.4" ry="10.2" fill="none" stroke="#343434" stroke-width="3.2"/>
<path d="M644.8 486.6 L648.2 487.0 L648.2 497.6 L644.8 497.0 Z" fill="#343434"/>
<path d="M644.7 486.4 L655.1 491.4 L654.1 494.0 L644.7 489.6 Z" fill="#343434"/>
<path d="M670.0 492.2 L682.8 489.4 L682.8 492.4 L670.6 495.0 Z" fill="#343434"/>
<path d="M679.3 489.8 L682.8 489.4 L682.8 500.0 L679.3 500.4 Z" fill="#343434"/>
<path d="M647.2 509.4 L647.2 516.6" stroke="#343434" stroke-width="3.0" stroke-linecap="butt"/>
<path d="M674.8 508.3 L674.8 516.4" stroke="#343434" stroke-width="3.0" stroke-linecap="butt"/>
<path d="M672.2 497.8 L679.8 501.3" stroke="#343434" stroke-width="2.4" stroke-linecap="butt"/>
<path d="M641.0 505.4 L648.5 509.1" stroke="#343434" stroke-width="2.4" stroke-linecap="butt"/>
<ellipse cx="568.7" cy="532.6" rx="9.6" ry="4.4" fill="#f0f0f0" stroke="#8c8c8c" stroke-width="0.7"/>
<ellipse cx="569.9" cy="527.7" rx="8.4" ry="4.0" fill="#8e8e8e"/>
<ellipse cx="569.9" cy="526.1" rx="7.5" ry="3.3" fill="#141414"/>
<ellipse cx="566.9" cy="531.4" rx="17.1" ry="7.9" fill="none" stroke="#343434" stroke-width="3.2"/>
<path d="M554.4 516.1 L557.8 516.5 L557.8 527.1 L554.4 526.5 Z" fill="#343434"/>
<path d="M554.3 515.9 L564.7 520.9 L563.7 523.5 L554.3 519.1 Z" fill="#343434"/>
<path d="M570.9 521.7 L583.7 518.9 L583.7 521.9 L571.5 524.5 Z" fill="#343434"/>
<path d="M580.2 519.3 L583.7 518.9 L583.7 529.5 L580.2 529.9 Z" fill="#343434"/>
<path d="M556.6 535.6 L556.6 541.5" stroke="#343434" stroke-width="3.0" stroke-linecap="butt"/>
<path d="M577.2 534.7 L577.2 541.3" stroke="#343434" stroke-width="3.0" stroke-linecap="butt"/>
<path d="M575.3 526.3 L580.9 529.1" stroke="#343434" stroke-width="2.4" stroke-linecap="butt"/>
<path d="M551.9 532.3 L557.5 535.3" stroke="#343434" stroke-width="2.4" stroke-linecap="butt"/>
<ellipse cx="691.6" cy="524.3" rx="10" ry="4.6" fill="#f0f0f0" stroke="#8c8c8c" stroke-width="0.7"/>
<ellipse cx="691.4" cy="519.8" rx="9.1" ry="4.7" fill="#8e8e8e"/>
<ellipse cx="691.4" cy="518.2" rx="8.2" ry="4.0" fill="#141414"/>
<ellipse cx="691.9" cy="523.1" rx="20.2" ry="8.0" fill="none" stroke="#343434" stroke-width="3.2"/>
<path d="M677.6 507.7 L681.0 508.1 L681.0 518.7 L677.6 518.1 Z" fill="#343434"/>
<path d="M677.5 507.5 L687.9 512.5 L686.9 515.1 L677.5 510.7 Z" fill="#343434"/>
<path d="M698.3 513.3 L711.1 510.5 L711.1 513.5 L698.9 516.1 Z" fill="#343434"/>
<path d="M707.6 510.9 L711.1 510.5 L711.1 521.1 L707.6 521.5 Z" fill="#343434"/>
<path d="M679.9 527.3 L679.9 533.3" stroke="#343434" stroke-width="3.0" stroke-linecap="butt"/>
<path d="M703.9 526.4 L703.9 533.1" stroke="#343434" stroke-width="3.0" stroke-linecap="butt"/>
<path d="M701.7 517.9 L708.2 520.8" stroke="#343434" stroke-width="2.4" stroke-linecap="butt"/>
<path d="M674.5 524.0 L681.0 527.0" stroke="#343434" stroke-width="2.4" stroke-linecap="butt"/>
<ellipse cx="631.1" cy="526.1" rx="15" ry="6.2" fill="#f0f0f0" stroke="#8c8c8c" stroke-width="0.7"/>
<ellipse cx="631.1" cy="527.1" rx="13.5" ry="4.6" fill="none" stroke="#b5b5b5" stroke-width="0.9"/>
<ellipse cx="631.3" cy="521.3" rx="10.200000000000001" ry="4.9" fill="#8e8e8e"/>
<ellipse cx="631.3" cy="519.7" rx="9.3" ry="4.2" fill="#141414"/>
<ellipse cx="630.8" cy="524.9" rx="25.0" ry="9.8" fill="none" stroke="#343434" stroke-width="3.2"/>
<path d="M613.7 507.7 L617.1 508.1 L617.1 518.7 L613.7 518.1 Z" fill="#343434"/>
<path d="M613.6 507.5 L624.0 512.5 L623.0 515.1 L613.6 510.7 Z" fill="#343434"/>
<path d="M641.1 513.3 L653.9 510.5 L653.9 513.5 L641.7 516.1 Z" fill="#343434"/>
<path d="M650.4 510.9 L653.9 510.5 L653.9 521.1 L650.4 521.5 Z" fill="#343434"/>
<path d="M616.2 529.9 L616.2 536.9" stroke="#343434" stroke-width="3.0" stroke-linecap="butt"/>
<path d="M645.4 528.8 L645.4 536.7" stroke="#343434" stroke-width="3.0" stroke-linecap="butt"/>
<path d="M642.8 518.7 L650.8 522.1" stroke="#343434" stroke-width="2.4" stroke-linecap="butt"/>
<path d="M609.5 526.0 L617.5 529.6" stroke="#343434" stroke-width="2.4" stroke-linecap="butt"/>
<ellipse cx="600.6" cy="550.4" rx="9.2" ry="4.2" fill="#f0f0f0" stroke="#8c8c8c" stroke-width="0.7"/>
<ellipse cx="600.6" cy="546.0" rx="8.4" ry="4.0" fill="#8e8e8e"/>
<ellipse cx="600.6" cy="544.4" rx="7.5" ry="3.3" fill="#141414"/>
<ellipse cx="600.5" cy="549.2" rx="20.2" ry="7.9" fill="none" stroke="#343434" stroke-width="3.2"/>
<path d="M586.2 533.9 L589.6 534.3 L589.6 544.9 L586.2 544.3 Z" fill="#343434"/>
<path d="M586.1 533.7 L596.5 538.7 L595.5 541.3 L586.1 536.9 Z" fill="#343434"/>
<path d="M606.9 539.5 L619.7 536.7 L619.7 539.7 L607.5 542.3 Z" fill="#343434"/>
<path d="M616.2 537.1 L619.7 536.7 L619.7 547.3 L616.2 547.7 Z" fill="#343434"/>
<path d="M588.5 553.4 L588.5 559.3" stroke="#343434" stroke-width="3.0" stroke-linecap="butt"/>
<path d="M612.5 552.5 L612.5 559.1" stroke="#343434" stroke-width="3.0" stroke-linecap="butt"/>
<path d="M610.3 544.1 L616.9 546.9" stroke="#343434" stroke-width="2.4" stroke-linecap="butt"/>
<path d="M583.1 550.1 L589.6 553.1" stroke="#343434" stroke-width="2.4" stroke-linecap="butt"/>
<ellipse cx="642.7" cy="553.8000000000001" rx="4.2" ry="2.9" fill="#6e6e6e"/>
<ellipse cx="642.7" cy="552.0" rx="3.4" ry="2.3" fill="#8a8a8a"/>
<ellipse cx="642.4000000000001" cy="551.5" rx="1.9" ry="1.1" fill="#a8a8a8"/>
<ellipse cx="653.9" cy="550.3000000000001" rx="4.2" ry="2.9" fill="#6e6e6e"/>
<ellipse cx="653.9" cy="548.5" rx="3.4" ry="2.3" fill="#8a8a8a"/>
<ellipse cx="653.6" cy="548.0" rx="1.9" ry="1.1" fill="#a8a8a8"/>
<ellipse cx="665.9" cy="547.0" rx="4.2" ry="2.9" fill="#6e6e6e"/>
<ellipse cx="665.9" cy="545.1999999999999" rx="3.4" ry="2.3" fill="#8a8a8a"/>
<ellipse cx="665.6" cy="544.6999999999999" rx="1.9" ry="1.1" fill="#a8a8a8"/>
<ellipse cx="677.6" cy="543.7" rx="4.2" ry="2.9" fill="#6e6e6e"/>
<ellipse cx="677.6" cy="541.9" rx="3.4" ry="2.3" fill="#8a8a8a"/>
<ellipse cx="677.3000000000001" cy="541.4" rx="1.9" ry="1.1" fill="#a8a8a8"/>
<ellipse cx="689.6" cy="540.6" rx="4.2" ry="2.9" fill="#6e6e6e"/>
<ellipse cx="689.6" cy="538.8" rx="3.4" ry="2.3" fill="#8a8a8a"/>
<ellipse cx="689.3000000000001" cy="538.3" rx="1.9" ry="1.1" fill="#a8a8a8"/>
<line x1="500.9" y1="503.6" x2="647.0" y2="462.6" stroke="#111" stroke-width="0.96" />
<line x1="500.9" y1="503.6" x2="513.1" y2="516.7" stroke="#000" stroke-width="0.96" />
<path d="M513.1 516.7 L504.8 511.1 L507.9 511.1 L508.1 508.0 Z" fill="#000"/>
<line x1="647.0" y1="462.6" x2="661.9" y2="475.9" stroke="#000" stroke-width="0.96" />
<path d="M661.9 475.9 L653.1 471.1 L656.2 470.8 L656.1 467.7 Z" fill="#000"/>
<text x="551.2" y="485.0" font-size="9.3" letter-spacing="1.6">700</text>
<circle cx="525.8" cy="477.8" r="6.0" fill="#fff" stroke="#111" stroke-width="1.0"/>
<text x="525.8" y="481.0" font-size="9" text-anchor="middle" font-weight="normal" fill="#000" >A</text>
<line x1="515.9" y1="550.4" x2="592.6" y2="600.9" stroke="#111" stroke-width="0.96" />
<line x1="515.9" y1="550.4" x2="518.7" y2="529.8" stroke="#000" stroke-width="0.96" />
<path d="M518.7 529.8 L519.5 540.4 L517.6 537.8 L515.1 539.8 Z" fill="#000"/>
<line x1="592.6" y1="603.7" x2="594.4" y2="585.0" stroke="#000" stroke-width="0.96" />
<path d="M594.4 585.0 L595.6 595.5 L593.6 593.0 L591.2 595.1 Z" fill="#000"/>
<text x="533.3" y="586.1" font-size="9.0" text-anchor="start" font-weight="normal" fill="#000" >520</text>
<line x1="761.1" y1="540.8" x2="761.1" y2="560.7" stroke="#111" stroke-width="0.96" />
<line x1="762.6" y1="543.0" x2="749.7" y2="536.8" stroke="#000" stroke-width="0.96" />
<path d="M749.7 536.8 L758.4 538.6 L755.8 539.7 L756.6 542.5 Z" fill="#000"/>
<line x1="762.6" y1="560.2" x2="749.1" y2="553.8" stroke="#000" stroke-width="0.96" />
<path d="M749.1 553.8 L757.8 555.6 L755.2 556.7 L756.0 559.4 Z" fill="#000"/>
<text x="763.3" y="555.0" font-size="9.3" letter-spacing="1.4">55</text>
<path d="M64.45 706.80 L59.60 706.80 L59.60 675.90 Q57.85 677.57 55.01 679.24 T49.90 681.74 L49.90 677.05 Q53.94 675.15 56.97 672.45 T61.24 667.30 L64.45 667.30 Z" fill="#000"/>
<text x="83.4" y="706.8" font-size="54.5" text-anchor="start" font-weight="normal" fill="#000" stroke="#000" stroke-width="0.5">a</text>
<path d="M213.7 678.7 L262.3 651.2 L317.2 683.6 L269.5 710.5 Z" stroke="#111" stroke-width="1.32" fill="none" stroke-linejoin="round" />
<line x1="213.7" y1="678.7" x2="213.4" y2="691.5" stroke="#111" stroke-width="1.32" />
<line x1="269.5" y1="710.5" x2="269.5" y2="734.9" stroke="#111" stroke-width="1.32" />
<line x1="317.2" y1="683.6" x2="317.2" y2="756.0" stroke="#111" stroke-width="1.32" />
<line x1="317.2" y1="756.0" x2="270.8" y2="784.3" stroke="#111" stroke-width="1.32" />
<path d="M276.8 713.9 L312.6 693.4 L314.7 695.0 L314.7 754.7 L283.0 773.0 L279.8 755.8 L276.8 740.9 Z" stroke="#111" stroke-width="2.28" fill="none" stroke-linejoin="round" />
<path d="M279.0 716.2 L312.4 697.0 L312.4 753.4 L284.6 769.4 L282.0 755.0 L279.0 740.4 Z" stroke="#111" stroke-width="1.08" fill="none" stroke-linejoin="round" />
<g transform="translate(290.3 742.8) rotate(-30)"><ellipse cx="-0.7" cy="-0.2" rx="4.0" ry="4.8" fill="#444" stroke="#111" stroke-width="1.25"/><ellipse cx="0.7" cy="0.25" rx="3.1" ry="4.1" fill="#fff" stroke="#111" stroke-width="1.25"/></g>
<path d="M81.1 768.4 L213.3 691.5 L252.8 714.7 L122.2 790.8 Z" stroke="#111" stroke-width="1.32" fill="none" stroke-linejoin="round" />
<path d="M81.1 768.4 L81.1 804.8 L137.0 836.5" stroke="#111" stroke-width="1.32" fill="none" stroke-linejoin="round" />
<path d="M122.2 790.8 L132.4 809.4 L145.2 816.9 L146.2 830.5" stroke="#111" stroke-width="1.32" fill="none" stroke-linejoin="round" />
<line x1="132.4" y1="809.4" x2="264.1" y2="733.4" stroke="#111" stroke-width="1.32" />
<path d="M252.8 714.7 L264.1 733.4 L276.8 740.9" stroke="#111" stroke-width="1.32" fill="none" stroke-linejoin="round" />
<line x1="145.2" y1="816.9" x2="276.8" y2="740.9" stroke="#111" stroke-width="1.32" />
<line x1="146.4" y1="826.8" x2="278.0" y2="749.8" stroke="#111" stroke-width="1.2" />
<line x1="147.2" y1="829.4" x2="277.4" y2="753.2" stroke="#111" stroke-width="0.96" />
<line x1="149.2" y1="832.6" x2="276.8" y2="758.0" stroke="#111" stroke-width="1.2" />
<path d="M142.2 784.7 L241.6 726.7" stroke="#111" stroke-width="2.9" fill="none" stroke-linecap="round"/>
<path d="M142.2 784.7 L241.6 726.7" stroke="#fff" stroke-width="1.1" fill="none" stroke-linecap="round"/>
<path d="M144.7 788.4 L244.4 730.2" stroke="#111" stroke-width="2.9" fill="none" stroke-linecap="round"/>
<path d="M144.7 788.4 L244.4 730.2" stroke="#fff" stroke-width="1.1" fill="none" stroke-linecap="round"/>
<path d="M147.2 792.2 L247.2 733.7" stroke="#111" stroke-width="2.9" fill="none" stroke-linecap="round"/>
<path d="M147.2 792.2 L247.2 733.7" stroke="#fff" stroke-width="1.1" fill="none" stroke-linecap="round"/>
<path d="M149.7 795.9 L250.0 737.2" stroke="#111" stroke-width="2.9" fill="none" stroke-linecap="round"/>
<path d="M149.7 795.9 L250.0 737.2" stroke="#fff" stroke-width="1.1" fill="none" stroke-linecap="round"/>
<path d="M148.4 819.6 L181.4 800.3 L183.3 801.1 L183.3 805.8 L150.3 825.0 L148.4 823.8 Z" stroke="#111" stroke-width="1.68" fill="none" stroke-linejoin="round" />
<path d="M150.6 820.6 L157.6 816.6 L157.6 819.8 L150.6 823.8 Z" stroke="#111" stroke-width="1.08" fill="none" stroke-linejoin="round" />
<path d="M159.6 815.4 L166.6 811.4 L166.6 814.6 L159.6 818.6 Z" stroke="#111" stroke-width="1.08" fill="none" stroke-linejoin="round" />
<path d="M168.6 810.2 L174.0 807.1 L174.0 810.3 L168.6 813.4 Z" stroke="#111" stroke-width="1.08" fill="#9a9a9a" stroke-linejoin="round" />
<path d="M176.0 806.0 L181.4 802.9 L181.4 805.9 L176.0 809.2 Z" stroke="#111" stroke-width="1.08" fill="none" stroke-linejoin="round" />
<path d="M136.9 827.3 L139.2 836.3 L150.4 847.5 L151.1 834.8 L145.6 830.5" stroke="#111" stroke-width="1.2" fill="#fff" stroke-linejoin="round" />
<line x1="136.9" y1="827.3" x2="145.2" y2="831.2" stroke="#111" stroke-width="1.2" />
<path d="M262.6 767.1 L267.1 765.6 L271.6 779.8 L267.8 782.8 Z" stroke="#111" stroke-width="1.2" fill="#111" stroke-linejoin="round" />
<line x1="255.8" y1="770.8" x2="259.6" y2="783.5" stroke="#111" stroke-width="1.08" />
<line x1="258.8" y1="769.4" x2="262.8" y2="782.6" stroke="#111" stroke-width="1.08" />
<line x1="249.9" y1="778.3" x2="260.3" y2="785.8" stroke="#111" stroke-width="1.08" />
<line x1="59.5" y1="886.8" x2="136.9" y2="842.8" stroke="#111" stroke-width="1.32" />
<line x1="151.0" y1="834.6" x2="249.9" y2="778.4" stroke="#111" stroke-width="1.32" />
<line x1="263.3" y1="784.3" x2="382.0" y2="853.6" stroke="#111" stroke-width="1.32" />
<line x1="382.0" y1="853.6" x2="382.0" y2="862.3" stroke="#111" stroke-width="1.32" />
<line x1="129.9" y1="1000.3" x2="382.0" y2="853.6" stroke="#111" stroke-width="1.32" />
<line x1="129.9" y1="1009.7" x2="382.0" y2="862.3" stroke="#111" stroke-width="1.32" />
<line x1="129.9" y1="1000.3" x2="129.9" y2="1009.7" stroke="#111" stroke-width="1.32" />
<path d="M199.6 937.2 L102.3 882.3 L220.7 814.2 L324.7 873.6 L199.6 937.2" stroke="#111" stroke-width="1.74" fill="none" stroke-linejoin="round" />
<path d="M113.6 886.2 L221.2 823.0 L308.7 873.8 L317.5 869.6" stroke="#111" stroke-width="1.2" fill="none" stroke-linejoin="round" />
<line x1="104.1" y1="884.7" x2="107.1" y2="881.5" stroke="#111" stroke-width="1.8" />
<line x1="108.5" y1="884.7" x2="111.5" y2="879.0" stroke="#111" stroke-width="1.8" />
<line x1="112.9" y1="884.8" x2="115.9" y2="876.5" stroke="#111" stroke-width="1.8" />
<line x1="117.3" y1="882.2" x2="120.3" y2="873.9" stroke="#111" stroke-width="1.8" />
<line x1="121.7" y1="879.7" x2="124.7" y2="871.4" stroke="#111" stroke-width="1.8" />
<line x1="126.0" y1="877.2" x2="129.0" y2="868.9" stroke="#111" stroke-width="1.8" />
<line x1="130.4" y1="874.7" x2="133.4" y2="866.4" stroke="#111" stroke-width="1.8" />
<line x1="134.8" y1="872.2" x2="137.8" y2="863.9" stroke="#111" stroke-width="1.8" />
<line x1="139.2" y1="869.6" x2="142.2" y2="861.3" stroke="#111" stroke-width="1.8" />
<line x1="143.6" y1="867.1" x2="146.6" y2="858.8" stroke="#111" stroke-width="1.8" />
<line x1="148.0" y1="864.6" x2="151.0" y2="856.3" stroke="#111" stroke-width="1.8" />
<line x1="152.3" y1="862.1" x2="155.3" y2="853.8" stroke="#111" stroke-width="1.8" />
<line x1="156.7" y1="859.5" x2="159.7" y2="851.2" stroke="#111" stroke-width="1.8" />
<line x1="161.1" y1="857.0" x2="164.1" y2="848.7" stroke="#111" stroke-width="1.8" />
<line x1="165.5" y1="854.5" x2="168.5" y2="846.2" stroke="#111" stroke-width="1.8" />
<line x1="169.9" y1="852.0" x2="172.9" y2="843.7" stroke="#111" stroke-width="1.8" />
<line x1="174.3" y1="849.5" x2="177.3" y2="841.2" stroke="#111" stroke-width="1.8" />
<line x1="178.7" y1="846.9" x2="181.7" y2="838.6" stroke="#111" stroke-width="1.8" />
<line x1="183.0" y1="844.4" x2="186.0" y2="836.1" stroke="#111" stroke-width="1.8" />
<line x1="187.4" y1="841.9" x2="190.4" y2="833.6" stroke="#111" stroke-width="1.8" />
<line x1="191.8" y1="839.4" x2="194.8" y2="831.1" stroke="#111" stroke-width="1.8" />
<line x1="196.2" y1="836.8" x2="199.2" y2="828.5" stroke="#111" stroke-width="1.8" />
<line x1="200.6" y1="834.3" x2="203.6" y2="826.0" stroke="#111" stroke-width="1.8" />
<line x1="205.0" y1="831.8" x2="208.0" y2="823.5" stroke="#111" stroke-width="1.8" />
<line x1="209.4" y1="829.3" x2="212.4" y2="821.0" stroke="#111" stroke-width="1.8" />
<line x1="213.7" y1="826.8" x2="216.7" y2="818.5" stroke="#111" stroke-width="1.8" />
<line x1="218.1" y1="824.2" x2="221.1" y2="815.9" stroke="#111" stroke-width="1.8" />
<line x1="221.2" y1="823.5" x2="223.0" y2="815.8" stroke="#111" stroke-width="1.74" />
<line x1="224.5" y1="825.4" x2="226.3" y2="817.7" stroke="#111" stroke-width="1.74" />
<line x1="227.9" y1="827.3" x2="229.7" y2="819.6" stroke="#111" stroke-width="1.74" />
<line x1="231.2" y1="829.2" x2="233.0" y2="821.5" stroke="#111" stroke-width="1.74" />
<line x1="234.6" y1="831.1" x2="236.4" y2="823.4" stroke="#111" stroke-width="1.74" />
<line x1="238.0" y1="833.0" x2="239.8" y2="825.3" stroke="#111" stroke-width="1.74" />
<line x1="241.3" y1="835.0" x2="243.1" y2="827.3" stroke="#111" stroke-width="1.74" />
<line x1="244.7" y1="836.9" x2="246.5" y2="829.2" stroke="#111" stroke-width="1.74" />
<line x1="248.0" y1="838.8" x2="249.8" y2="831.1" stroke="#111" stroke-width="1.74" />
<line x1="251.4" y1="840.7" x2="253.2" y2="833.0" stroke="#111" stroke-width="1.74" />
<line x1="254.7" y1="842.6" x2="256.5" y2="834.9" stroke="#111" stroke-width="1.74" />
<line x1="258.1" y1="844.5" x2="259.9" y2="836.8" stroke="#111" stroke-width="1.74" />
<line x1="261.4" y1="846.5" x2="263.2" y2="838.8" stroke="#111" stroke-width="1.74" />
<line x1="264.8" y1="848.4" x2="266.6" y2="840.7" stroke="#111" stroke-width="1.74" />
<line x1="268.1" y1="850.3" x2="269.9" y2="842.6" stroke="#111" stroke-width="1.74" />
<line x1="271.5" y1="852.2" x2="273.3" y2="844.5" stroke="#111" stroke-width="1.74" />
<line x1="274.9" y1="854.1" x2="276.7" y2="846.4" stroke="#111" stroke-width="1.74" />
<line x1="278.2" y1="856.0" x2="280.0" y2="848.3" stroke="#111" stroke-width="1.74" />
<line x1="281.6" y1="857.9" x2="283.4" y2="850.2" stroke="#111" stroke-width="1.74" />
<line x1="284.9" y1="859.9" x2="286.7" y2="852.2" stroke="#111" stroke-width="1.74" />
<line x1="288.3" y1="861.8" x2="290.1" y2="854.1" stroke="#111" stroke-width="1.74" />
<line x1="291.6" y1="863.7" x2="293.4" y2="856.0" stroke="#111" stroke-width="1.74" />
<line x1="295.0" y1="865.6" x2="296.8" y2="857.9" stroke="#111" stroke-width="1.74" />
<line x1="298.3" y1="867.5" x2="300.1" y2="859.8" stroke="#111" stroke-width="1.74" />
<line x1="301.7" y1="869.4" x2="303.5" y2="861.7" stroke="#111" stroke-width="1.74" />
<line x1="305.0" y1="871.4" x2="306.8" y2="863.7" stroke="#111" stroke-width="1.74" />
<line x1="308.4" y1="873.3" x2="310.2" y2="865.6" stroke="#111" stroke-width="1.74" />
<line x1="199.6" y1="836.0" x2="199.6" y2="937.2" stroke="#111" stroke-width="1.32" />
<line x1="61.2" y1="888.5" x2="106.6" y2="915.2" stroke="#111" stroke-width="0.96" />
<line x1="129.2" y1="928.4" x2="190.9" y2="964.6" stroke="#111" stroke-width="0.96" />
<path d="M61.2 888.5 L69.7 891.1 L67.0 891.9 L67.6 894.6 Z" fill="#000"/>
<path d="M190.9 964.6 L182.4 962.0 L185.1 961.2 L184.5 958.5 Z" fill="#000"/>
<text x="108.6" y="931.0" font-size="10.6" text-anchor="start" font-weight="normal" fill="#000" >600</text>
<line x1="99.9" y1="884.8" x2="127.3" y2="899.8" stroke="#111" stroke-width="0.96" />
<line x1="158.5" y1="918.5" x2="195.9" y2="940.1" stroke="#111" stroke-width="0.96" />
<path d="M99.9 884.8 L108.4 887.3 L105.7 888.1 L106.4 890.8 Z" fill="#000"/>
<path d="M195.9 940.1 L187.4 937.6 L190.1 936.8 L189.4 934.1 Z" fill="#000"/>
<text x="128.4" y="919.7" font-size="10.6">490<tspan font-size="9">±</tspan>1</text>
<line x1="211.2" y1="940.9" x2="258.0" y2="914.2" stroke="#111" stroke-width="0.96" />
<line x1="289.5" y1="896.4" x2="323.4" y2="877.3" stroke="#111" stroke-width="0.96" />
<path d="M211.2 940.9 L217.7 934.9 L217.1 937.6 L219.7 938.4 Z" fill="#000"/>
<path d="M323.4 877.3 L316.9 883.3 L317.5 880.6 L314.9 879.8 Z" fill="#000"/>
<text transform="translate(273.8 909.6) rotate(-29.5)" font-size="10.6" text-anchor="middle">560 <tspan font-size="8.5">±</tspan>1</text>
<line x1="258.6" y1="795.0" x2="258.6" y2="828.0" stroke="#111" stroke-width="0.96" />
<path d="M258.6 789.3 L260.5 797.3 L258.6 795.6 L256.7 797.3 Z" fill="#000"/>
<path d="M258.6 833.7 L256.7 825.7 L258.6 827.4 L260.5 825.7 Z" fill="#000"/>
<text x="261.8" y="816.3" font-size="10.3" text-anchor="start" font-weight="normal" fill="#000" >650</text>
<text transform="translate(133.0 858.6) rotate(-29.5)" font-size="10.4" text-anchor="middle">min.50</text>
<line x1="118.0" y1="842.0" x2="126.2" y2="846.3" stroke="#000" stroke-width="0.96" />
<path d="M126.2 846.3 L119.8 844.8 L121.8 844.0 L121.4 841.9 Z" fill="#000"/>
<line x1="157.8" y1="862.6" x2="147.4" y2="858.0" stroke="#000" stroke-width="0.96" />
<path d="M147.4 858.0 L153.8 859.1 L151.9 860.0 L152.5 862.0 Z" fill="#000"/>
<line x1="146.8" y1="1004.0" x2="146.8" y2="1103.2" stroke="#111" stroke-width="1.32" />
<line x1="149.8" y1="1000.0" x2="149.8" y2="1101.6" stroke="#111" stroke-width="1.08" />
<path d="M156.1 1000.3 L214.1 967.4 L216.7 970.4 L216.7 1058.3 L159.9 1090.9 L156.1 1087.1 Z" stroke="#111" stroke-width="2.28" fill="none" stroke-linejoin="round" />
<path d="M158.6 1001.6 L214.2 970.2 L214.2 1057.2 L160.6 1087.8 L158.6 1086.0 Z" stroke="#111" stroke-width="1.08" fill="none" stroke-linejoin="round" />
<g transform="translate(208.5 1019.8) rotate(-30)"><ellipse cx="-0.7" cy="-0.2" rx="3.8" ry="4.6" fill="#444" stroke="#111" stroke-width="1.25"/><ellipse cx="0.7" cy="0.25" rx="3.0" ry="3.9" fill="#fff" stroke="#111" stroke-width="1.25"/></g>
<line x1="220.5" y1="957.2" x2="220.5" y2="1074.6" stroke="#111" stroke-width="1.32" />
<line x1="224.2" y1="955.2" x2="224.2" y2="1072.6" stroke="#111" stroke-width="1.32" />
<path d="M146.8 1103.2 L378.7 970.4" stroke="#111" stroke-width="1.32" fill="none" stroke-linejoin="round" />
<path d="M149.8 1116.3 L378.7 981.6" stroke="#111" stroke-width="1.32" fill="none" stroke-linejoin="round" />
<path d="M146.8 1103.2 L149.8 1105.0 L149.8 1116.3" stroke="#111" stroke-width="1.2" fill="none" stroke-linejoin="round" />
<line x1="378.7" y1="970.4" x2="378.7" y2="981.6" stroke="#111" stroke-width="1.32" />
<line x1="149.8" y1="1105.0" x2="378.7" y2="972.6" stroke="#111" stroke-width="0.84" />
<line x1="62.0" y1="1066.0" x2="149.8" y2="1116.3" stroke="#111" stroke-width="1.2" />
<line x1="232.8" y1="949.8" x2="320.7" y2="1000.3" stroke="#111" stroke-width="1.2" />
<line x1="224.2" y1="1060.2" x2="321.5" y2="1004.1" stroke="#111" stroke-width="1.2" />
<line x1="224.2" y1="1062.8" x2="321.5" y2="1006.6" stroke="#111" stroke-width="0.96" />
<line x1="321.5" y1="897.5" x2="321.5" y2="1006.0" stroke="#111" stroke-width="1.32" />
<line x1="324.6" y1="895.6" x2="324.6" y2="1003.0" stroke="#111" stroke-width="1.32" />
<line x1="375.8" y1="866.0" x2="375.8" y2="972.0" stroke="#111" stroke-width="1.32" />
<path d="M333.4 897.3 L369.6 877.3 L372.1 879.8 L372.1 967.1 L335.9 988.3 L333.4 985.8 Z" stroke="#111" stroke-width="2.28" fill="none" stroke-linejoin="round" />
<path d="M336.0 898.8 L369.6 880.2 L369.6 966.0 L336.6 985.2 L336.0 984.6 Z" stroke="#111" stroke-width="1.08" fill="none" stroke-linejoin="round" />
<g transform="translate(345.9 940.9) rotate(-30)"><ellipse cx="-0.7" cy="-0.2" rx="4.0" ry="4.8" fill="#444" stroke="#111" stroke-width="1.25"/><ellipse cx="0.7" cy="0.25" rx="3.1" ry="4.1" fill="#fff" stroke="#111" stroke-width="1.25"/></g>
<path d="M437.15 706.80 L432.30 706.80 L432.30 675.90 Q430.55 677.57 427.71 679.24 T422.60 681.74 L422.60 677.05 Q426.64 675.15 429.67 672.45 T433.94 667.30 L437.15 667.30 Z" fill="#000"/>
<text x="453.8" y="706.8" font-size="54.5" text-anchor="start" font-weight="normal" fill="#000" stroke="#000" stroke-width="0.5">b</text>
<clipPath id="c9"><rect x="378" y="715" width="393.5" height="319.5"/></clipPath><g clip-path="url(#c9)">
<line x1="380.4" y1="918.6" x2="647.5" y2="774.7" stroke="#000" stroke-width="2.28" />
<path d="M476 1034.5 L771.5 869.6 L771.5 880.6 L497 1034.5 Z" fill="#d9d9d9"/>
<line x1="476.0" y1="1034.5" x2="771.5" y2="869.6" stroke="#111" stroke-width="1.08" />
<line x1="497.0" y1="1034.5" x2="771.5" y2="880.6" stroke="#000" stroke-width="2.04" />
<path d="M423.5 917.7 Q419.6 915.4 423.5 913.2 L601.5 814.8 Q605.4 812.6 609.4 814.7 L725.4 875.3 Q729.4 877.4 725.5 879.6 L543.5 984.0 Q539.6 986.2 535.7 983.9 Z" fill="none" stroke="#2a2a2a" stroke-width="3.3"/>
<path d="M423.5 917.7 Q419.6 915.4 423.5 913.2 L601.5 814.8 Q605.4 812.6 609.4 814.7 L725.4 875.3 Q729.4 877.4 725.5 879.6 L543.5 984.0 Q539.6 986.2 535.7 983.9 Z" fill="none" stroke="#a2a2a2" stroke-width="2.0"/>
<path d="M419.0 916.4 L538.0 986.4 Q539.6 987.4000000000001 541.8 985.8 L729.8 878.2" fill="none" stroke="#000" stroke-width="2.0"/>
<path d="M430.9 918.3 Q428.0 916.6 431.0 915.0 L602.6 820.2 Q605.6 818.6 608.6 820.2 L717.6 876.6 Q720.6 878.2 717.6 879.9 L543.0 979.7 Q540.0 981.4 537.1 979.7 Z" fill="none" stroke="#2a2a2a" stroke-width="3.1"/>
<path d="M430.9 918.3 Q428.0 916.6 431.0 915.0 L602.6 820.2 Q605.6 818.6 608.6 820.2 L717.6 876.6 Q720.6 878.2 717.6 879.9 L543.0 979.7 Q540.0 981.4 537.1 979.7 Z" fill="none" stroke="#a8a8a8" stroke-width="1.8"/>
<path d="M430.0 916.4 L605.6 820.2 L718.2 878.4" fill="none" stroke="#000" stroke-width="1.5"/>
<path d="M584.1 832.6 L584.6 836.4 L588.7 839.2 L694.0 895.2" stroke="#222" stroke-width="3.12" fill="none" stroke-linejoin="round" />
<path d="M584.1 832.6 L584.6 836.4 L588.7 839.2 L694.0 895.2" stroke="#b0b0b0" stroke-width="1.2" fill="none" stroke-linejoin="round" />
<path d="M437.0 913.0 L438.0 920.5 L531.5 975.6" stroke="#333" stroke-width="3.12" fill="none" stroke-linejoin="round" />
<path d="M437.0 913.0 L438.0 920.5 L531.5 975.6" stroke="#c0c0c0" stroke-width="1.2" fill="none" stroke-linejoin="round" />
<line x1="573.7" y1="835.0" x2="573.7" y2="962.0" stroke="#555" stroke-width="0.84" />
<rect x="445.0" y="850.5" width="2.6" height="82.0" fill="#fff" stroke="#777" stroke-width="0.7"/>
<rect x="629.9000000000001" y="752.5" width="2.6" height="79.5" fill="#fff" stroke="#777" stroke-width="0.7"/>
<rect x="637.1" y="904.5" width="2.6" height="26.0" fill="#fff" stroke="#777" stroke-width="0.7"/>
<line x1="449.6" y1="858.0" x2="449.6" y2="931.0" stroke="#444" stroke-width="0.84" />
<rect x="520.4" y="836.5" width="2.4" height="24" fill="#fff" stroke="#777" stroke-width="0.7"/>
<line x1="525.2" y1="848.0" x2="525.2" y2="862.0" stroke="#444" stroke-width="0.84" />
<line x1="606.0" y1="767.8" x2="447.6" y2="854.0" stroke="#000" stroke-width="0.84" />
<path d="M447.6 854.0 L455.6 847.1 L454.7 850.1 L457.8 851.0 Z" fill="#000"/>
<path d="M631.6 753.8 L623.6 760.7 L624.5 757.7 L621.4 756.8 Z" fill="#000"/>
<line x1="606.0" y1="767.8" x2="631.6" y2="753.8" stroke="#111" stroke-width="0.84" />
<line x1="600.0" y1="784.0" x2="450.6" y2="865.6" stroke="#000" stroke-width="0.84" />
<path d="M450.6 865.6 L458.6 858.7 L457.7 861.7 L460.8 862.6 Z" fill="#000"/>
<line x1="611.0" y1="777.6" x2="629.8" y2="767.6" stroke="#111" stroke-width="0.84" />
<path d="M629.8 767.6 L622.7 773.9 L623.5 771.0 L620.7 770.1 Z" fill="#000"/>
<line x1="590.0" y1="876.2" x2="523.0" y2="839.6" stroke="#000" stroke-width="0.84" />
<path d="M523.0 839.6 L533.2 842.6 L530.1 843.5 L531.0 846.5 Z" fill="#000"/>
<line x1="606.5" y1="885.6" x2="640.2" y2="904.4" stroke="#111" stroke-width="0.84" />
<path d="M640.2 906.0 L631.1 903.4 L633.9 902.5 L633.2 899.7 Z" fill="#000"/>
<line x1="596.0" y1="892.6" x2="526.0" y2="852.8" stroke="#000" stroke-width="0.84" />
<path d="M526.0 852.8 L536.1 856.0 L533.0 856.8 L533.9 859.9 Z" fill="#000"/>
<line x1="612.0" y1="902.6" x2="634.6" y2="915.6" stroke="#111" stroke-width="0.84" />
<path d="M635.6 916.4 L626.5 913.8 L629.3 912.9 L628.6 910.1 Z" fill="#000"/>
<line x1="587.2" y1="801.9" x2="587.2" y2="816.0" stroke="#111" stroke-width="0.96" />
<path d="M587.2 821.6 L585.3 814.1 L587.2 815.8 L589.1 814.1 Z" fill="#000"/>
<line x1="587.2" y1="856.0" x2="587.2" y2="848.0" stroke="#111" stroke-width="0.96" />
<path d="M587.2 842.6 L589.1 850.1 L587.2 848.4 L585.3 850.1 Z" fill="#000"/>
<line x1="577.4" y1="937.6" x2="597.4" y2="949.6" stroke="#000" stroke-width="0.96" />
<path d="M597.4 949.6 L589.5 947.2 L592.0 946.4 L591.5 943.7 Z" fill="#000"/>
<line x1="636.7" y1="970.7" x2="619.0" y2="962.6" stroke="#000" stroke-width="0.96" />
<path d="M619.0 962.6 L627.2 964.1 L624.7 965.2 L625.5 967.8 Z" fill="#000"/>
<line x1="391.0" y1="917.3" x2="442.0" y2="948.6" stroke="#111" stroke-width="0.96" />
<path d="M389.0 916.1 L398.0 919.0 L395.1 919.8 L395.8 922.7 Z" fill="#000"/>
<line x1="464.0" y1="962.4" x2="530.8" y2="1004.8" stroke="#111" stroke-width="0.96" />
<path d="M530.8 1004.8 L521.9 1001.7 L524.7 1000.9 L524.2 998.1 Z" fill="#000"/>
<line x1="738.2" y1="860.7" x2="738.2" y2="880.0" stroke="#111" stroke-width="0.96" />
<path d="M738.2 885.6 L736.2 877.6 L738.2 879.3 L740.2 877.6 Z" fill="#000"/>
<line x1="738.2" y1="926.5" x2="738.2" y2="907.0" stroke="#111" stroke-width="0.96" />
<path d="M738.2 901.2 L740.2 909.2 L738.2 907.5 L736.2 909.2 Z" fill="#000"/>
<line x1="569.2" y1="994.0" x2="569.2" y2="1034.5" stroke="#111" stroke-width="1.2" />
<line x1="574.7" y1="991.0" x2="574.7" y2="1034.5" stroke="#111" stroke-width="1.2" />
<line x1="576.0" y1="999.3" x2="642.0" y2="1034.5" stroke="#111" stroke-width="0.96" />
<line x1="722.5" y1="907.6" x2="722.5" y2="1034.5" stroke="#111" stroke-width="1.2" />
<line x1="725.9" y1="905.6" x2="725.9" y2="1034.5" stroke="#111" stroke-width="1.2" />
<line x1="728.1" y1="940.3" x2="771.5" y2="915.2" stroke="#111" stroke-width="1.2" />
<line x1="728.1" y1="944.4" x2="771.5" y2="919.3" stroke="#111" stroke-width="0.96" />
<line x1="580.0" y1="1002.5" x2="635.4" y2="1034.4" stroke="#111" stroke-width="0.96" />
<line x1="609.8" y1="811.8" x2="649.4" y2="792.6" stroke="#555" stroke-width="0.84" />
<line x1="612.8" y1="814.4" x2="649.4" y2="801.6" stroke="#555" stroke-width="0.84" />
</g>
<text x="585.4" y="777.6" font-size="9.6" font-weight="bold" letter-spacing="1.7">704</text>
<text x="606.2" y="772.8" font-size="6" font-weight="bold">±1</text>
<text x="577.4" y="790.0" font-size="9.6" font-weight="bold" letter-spacing="1.7">560</text>
<text x="597.0" y="789.6" font-size="6" font-weight="bold">±</text>
<text x="620.4" y="790.0" font-size="9.6" font-weight="bold" letter-spacing="1.7">675</text>
<text x="581.7" y="866.6" font-size="11" text-anchor="start" font-weight="bold" fill="#000" >50</text>
<text x="580.4" y="884.2" font-size="9.6" font-weight="bold" letter-spacing="1.7">524</text>
<text x="600.0" y="880.6" font-size="6" font-weight="bold">±1</text>
<text x="587.2" y="900.0" font-size="9.6" font-weight="bold" letter-spacing="1.7">490</text>
<text x="607.0" y="900.2" font-size="6" font-weight="bold">-2</text>
<text x="604.6" y="959.3" font-size="11" text-anchor="start" font-weight="bold" fill="#000" >50</text>
<text x="435.4" y="961.6" font-size="10.6" text-anchor="start" font-weight="bold" fill="#000" >min. 600</text>
<text x="738.2" y="850.2" font-size="10.6" text-anchor="middle" font-weight="bold" fill="#000" >min.</text>
<text x="738.2" y="860.4" font-size="10.6" text-anchor="middle" font-weight="bold" fill="#000" >30</text>
<rect x="649.3" y="720.6" width="122" height="98.5" rx="3.5" fill="#fff" stroke="#8a8a8a" stroke-width="0.9"/>
<defs><pattern id="ht" width="3.1" height="3.1" patternUnits="userSpaceOnUse" patternTransform="rotate(28)"><rect width="3.1" height="3.1" fill="#ececec"/><line x1="0" y1="0" x2="0" y2="3.1" stroke="#333" stroke-width="1.0"/></pattern><pattern id="ht2" width="3.1" height="3.1" patternUnits="userSpaceOnUse" patternTransform="rotate(-40)"><rect width="3.1" height="3.1" fill="#efefef"/><line x1="0" y1="0" x2="0" y2="3.1" stroke="#444" stroke-width="0.9"/></pattern></defs>
<path d="M654.8 761.5 L667.9 770.2 L667.9 778.9 L677.5 786.8 L677.5 812.1 L654.8 793.8 Z" fill="url(#ht)" stroke="#111" stroke-width="1.2"/>
<path d="M715.9 786.8 L722.9 779.0 L722.9 772.0 L736.9 763.2 L736.9 796.4 L715.9 813.0 Z" fill="url(#ht2)" stroke="#111" stroke-width="1.2"/>
<path d="M677.5 786.8 L695.9 775.4 L695.9 800.8 L677.5 812.1 Z" fill="#9c9c9c" stroke="#111" stroke-width="0.8"/>
<path d="M695.9 775.4 L715.9 786.8 L715.9 813.0 L695.9 800.8 Z" fill="#acacac" stroke="#111" stroke-width="0.8"/>
<path d="M667.9 770.2 L690.6 757.2 Q695.6 754.8 700.2 757.6 L722.9 772.0 L722.9 779.0 L700.4 765.6 Q695.8 763.2 691.4 765.4 L667.9 778.9 Z" fill="#bdbdbd" stroke="#555" stroke-width="0.7"/>
<path d="M667.9 778.9 L677.5 786.8 L695.9 775.4 L715.9 786.8 L722.9 779.0" fill="none" stroke="#333" stroke-width="0.8"/>
<path d="M654.8 793.8 L654.8 761.5 L662.7 752.8 L676.7 747.5 L683.6 738.8 L692.4 737.9 L699.3 742.3 L709.8 744.9 L717.7 749.3 L725.5 755.4 L736.9 763.2 L736.9 796.4 L715.9 813.0 L695.9 800.8 L677.5 812.1 Z" fill="none" stroke="#000" stroke-width="1.7" stroke-linejoin="round"/>
<text x="692.2" y="731.2" font-size="10.2" text-anchor="start" font-weight="bold" fill="#000" >R4</text>
<text x="717.6" y="735.4" font-size="10.2" text-anchor="start" font-weight="bold" fill="#000" >max.</text>
<text x="723.6" y="744.4" font-size="10.2" text-anchor="start" font-weight="bold" fill="#000" >R5</text>
<line x1="701.1" y1="731.8" x2="695.6" y2="756.0" stroke="#000" stroke-width="0.84" />
<path d="M695.6 756.0 L695.9 745.5 L697.4 748.1 L699.8 746.4 Z" fill="#000"/>
<line x1="723.8" y1="745.0" x2="697.8" y2="773.4" stroke="#000" stroke-width="0.84" />
<path d="M697.8 773.4 L703.3 764.4 L703.3 767.4 L706.3 767.1 Z" fill="#000"/>
<line x1="736.9" y1="763.2" x2="746.5" y2="757.1" stroke="#111" stroke-width="0.84" />
<line x1="736.9" y1="770.2" x2="746.5" y2="765.0" stroke="#111" stroke-width="0.84" />
<line x1="744.2" y1="744.9" x2="744.2" y2="752.0" stroke="#111" stroke-width="0.84" />
<path d="M744.2 757.0 L742.3 750.1 L744.2 751.6 L746.1 750.1 Z" fill="#000"/>
<line x1="744.2" y1="782.4" x2="744.2" y2="775.0" stroke="#111" stroke-width="0.84" />
<path d="M744.2 769.6 L746.1 776.5 L744.2 775.0 L742.3 776.5 Z" fill="#000"/>
<text x="740.8" y="795.6" font-size="10.6" font-weight="bold" letter-spacing="2.2">11</text>
<text x="753.6" y="791.2" font-size="7.2" font-weight="bold">+0,5</text>
<text x="755.0" y="798.4" font-size="7.2" font-weight="bold">-  0</text>
<rect x="716.8" y="797.0" width="10.5" height="9" fill="#fff" transform="rotate(-18 722 801.5)"/>
<text transform="translate(716.8 807.0) rotate(-18)" font-size="9.5">90</text>
<path d="M718.6 792.0 Q727.0 789.2 731.4 796.8" fill="none" stroke="#222" stroke-width="0.7"/>
</svg>
</body></html>
